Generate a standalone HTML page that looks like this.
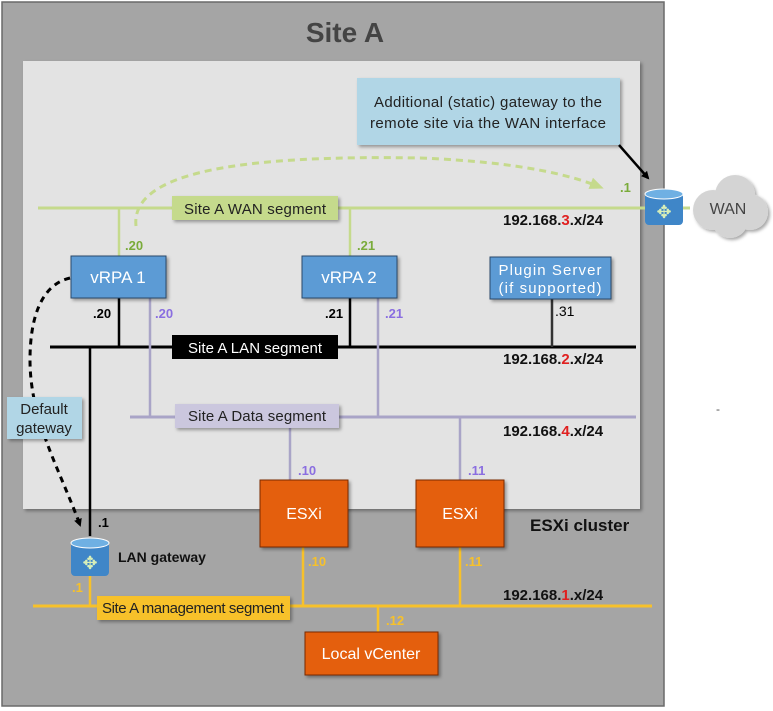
<!DOCTYPE html>
<html><head><meta charset="utf-8"><style>
body{margin:0;background:#fff;}
svg{display:block;font-family:"Liberation Sans",sans-serif;}
</style></head><body>
<svg width="773" height="711" viewBox="0 0 773 711" xmlns="http://www.w3.org/2000/svg">
<defs>
<filter id="sh" x="-10%" y="-10%" width="130%" height="140%"><feDropShadow dx="2" dy="2" stdDeviation="1.5" flood-color="#000" flood-opacity="0.35"/></filter>
<marker id="ab" markerWidth="8" markerHeight="8" refX="6" refY="4" orient="auto" markerUnits="userSpaceOnUse"><path d="M0,0 L8,4 L0,8 z" fill="#000"/></marker>
<marker id="ag" markerWidth="14" markerHeight="12" refX="10" refY="6" orient="auto" markerUnits="userSpaceOnUse"><path d="M0,0 L14,6 L0,12 z" fill="#c5da8c"/></marker>
</defs>
<rect x="2" y="2" width="662" height="704" fill="#a5a5a5" stroke="#6a6a6a" stroke-width="1.5"/>
<text x="345" y="42" text-anchor="middle" font-size="28" font-weight="bold" fill="#444">Site A</text>
<rect x="23" y="61" width="617" height="448" fill="#e3e3e3" filter="url(#sh)"/>
<rect x="357" y="78" width="263" height="67" fill="#b1d6e6" filter="url(#sh)"/>
<text x="488" y="107" text-anchor="middle" font-size="15" fill="#222" textLength="228">Additional (static) gateway to the</text>
<text x="488" y="128" text-anchor="middle" font-size="15" fill="#222" textLength="236">remote site via the WAN interface</text>
<line x1="619" y1="145" x2="648" y2="178" stroke="#000" stroke-width="2.5" marker-end="url(#ab)"/>
<!-- WAN -->
<line x1="38" y1="208" x2="690" y2="208" stroke="#c5da8c" stroke-width="3"/>
<line x1="119" y1="208" x2="119" y2="256" stroke="#c5da8c" stroke-width="2.5"/>
<line x1="350" y1="208" x2="350" y2="256" stroke="#c5da8c" stroke-width="2.5"/>
<path d="M136,226 C130,170 250,155 420,158 C520,162 570,175 600,187" fill="none" stroke="#c5da8c" stroke-width="3" stroke-dasharray="7,5" marker-end="url(#ag)"/>
<rect x="172" y="196" width="166" height="24" fill="#c5da8c" filter="url(#sh)"/>
<text x="255" y="214" text-anchor="middle" font-size="15" fill="#222" textLength="142">Site A WAN segment</text>
<text x="620" y="192" font-size="13" font-weight="bold" fill="#7aab3a">.1</text>
<text x="125" y="250" font-size="13" font-weight="bold" fill="#7aab3a">.20</text>
<text x="357" y="250" font-size="13" font-weight="bold" fill="#7aab3a">.21</text>
<text x="503" y="225" font-size="15" font-weight="bold" fill="#111">192.168.<tspan fill="#e02020">3</tspan>.x/24</text>
<!-- router WAN -->
<g transform="translate(645,188)"><rect x="0" y="5" width="38" height="32" rx="4" fill="#3f86c8"/><ellipse cx="19" cy="6" rx="19" ry="5" fill="#6fb0e3" stroke="#fff" stroke-width="1"/><text x="19" y="30" text-anchor="middle" font-size="18" fill="#d8efb8">✥</text></g>
<!-- cloud -->
<g fill="#d4d4d4" filter="url(#sh)"><circle cx="713" cy="210" r="20"/><circle cx="735" cy="195" r="20"/><circle cx="750" cy="212" r="18"/><circle cx="730" cy="220" r="18"/></g>
<text x="728" y="214" text-anchor="middle" font-size="16" fill="#444">WAN</text>
<!-- LAN -->
<line x1="50" y1="347" x2="636" y2="347" stroke="#000" stroke-width="3"/>
<line x1="119" y1="298" x2="119" y2="347" stroke="#000" stroke-width="2.5"/>
<line x1="350" y1="298" x2="350" y2="347" stroke="#000" stroke-width="2.5"/>
<line x1="552" y1="299" x2="552" y2="347" stroke="#333" stroke-width="2.5"/>
<line x1="90" y1="347" x2="90" y2="536" stroke="#000" stroke-width="2.5"/>
<rect x="172" y="335" width="166" height="24" fill="#000"/>
<text x="255" y="353" text-anchor="middle" font-size="15" fill="#fff" textLength="134">Site A LAN segment</text>
<text x="503" y="364" font-size="15" font-weight="bold" fill="#111">192.168.<tspan fill="#e02020">2</tspan>.x/24</text>
<!-- Data -->
<line x1="130" y1="417" x2="636" y2="417" stroke="#a9a4c7" stroke-width="3"/>
<line x1="150" y1="298" x2="150" y2="417" stroke="#a9a4c7" stroke-width="2.5"/>
<line x1="378" y1="298" x2="378" y2="417" stroke="#a9a4c7" stroke-width="2.5"/>
<line x1="290" y1="417" x2="290" y2="480" stroke="#a9a4c7" stroke-width="2.5"/>
<line x1="460" y1="417" x2="460" y2="480" stroke="#a9a4c7" stroke-width="2.5"/>
<rect x="175" y="404" width="164" height="24" fill="#cbc7de" filter="url(#sh)"/>
<text x="257" y="421" text-anchor="middle" font-size="15" fill="#222" textLength="138">Site A Data segment</text>
<text x="503" y="436" font-size="15" font-weight="bold" fill="#111">192.168.<tspan fill="#e02020">4</tspan>.x/24</text>
<text x="298" y="475" font-size="13" font-weight="bold" fill="#8a6ee0">.10</text>
<text x="468" y="475" font-size="13" font-weight="bold" fill="#8a6ee0">.11</text>
<!-- vRPA -->
<rect x="71" y="256" width="95" height="42" fill="#5b9bd5" stroke="#2a4a6a" stroke-width="1" filter="url(#sh)"/>
<text x="118" y="283" text-anchor="middle" font-size="17" fill="#fff">vRPA 1</text>
<rect x="302" y="256" width="95" height="42" fill="#5b9bd5" stroke="#2a4a6a" stroke-width="1" filter="url(#sh)"/>
<text x="349" y="283" text-anchor="middle" font-size="17" fill="#fff">vRPA 2</text>
<rect x="490" y="257" width="121" height="42" fill="#5b9bd5" stroke="#2a4a6a" stroke-width="1" filter="url(#sh)"/>
<text x="550" y="275" text-anchor="middle" font-size="15" fill="#fff" textLength="103">Plugin Server</text>
<text x="550" y="293" text-anchor="middle" font-size="15" fill="#fff" textLength="103">(if supported)</text>
<text x="93" y="318" font-size="13" font-weight="bold" fill="#000">.20</text>
<text x="155" y="318" font-size="13" font-weight="bold" fill="#8a6ee0">.20</text>
<text x="325" y="318" font-size="13" font-weight="bold" fill="#000">.21</text>
<text x="385" y="318" font-size="13" font-weight="bold" fill="#8a6ee0">.21</text>
<text x="555" y="316" font-size="14" fill="#000">.31</text>
<!-- default gateway -->
<path d="M70,278 C40,285 30,320 30,360 C30,420 60,470 80,525" fill="none" stroke="#000" stroke-width="3" stroke-dasharray="6,5" marker-end="url(#ab)"/>
<rect x="7" y="397" width="75" height="42" fill="#b1d6e6" filter="url(#sh)"/>
<text x="44" y="414" text-anchor="middle" font-size="15" fill="#222">Default</text>
<text x="44" y="433" text-anchor="middle" font-size="15" fill="#222">gateway</text>
<text x="98" y="527" font-size="13" font-weight="bold" fill="#000">.1</text>
<!-- mgmt -->
<line x1="33" y1="606" x2="652" y2="606" stroke="#f7c12a" stroke-width="3"/>
<line x1="90" y1="575" x2="90" y2="606" stroke="#f7c12a" stroke-width="2.5"/>
<line x1="303" y1="547" x2="303" y2="606" stroke="#f7c12a" stroke-width="2.5"/>
<line x1="460" y1="547" x2="460" y2="606" stroke="#f7c12a" stroke-width="2.5"/>
<line x1="378" y1="606" x2="378" y2="632" stroke="#f7c12a" stroke-width="2.5"/>
<rect x="97" y="596" width="193" height="24" fill="#f7c12a" filter="url(#sh)"/>
<text x="193" y="613" text-anchor="middle" font-size="15" fill="#222" textLength="182">Site A management segment</text>
<text x="72" y="592" font-size="13" font-weight="bold" fill="#f7c12a">.1</text>
<text x="308" y="566" font-size="13" font-weight="bold" fill="#f7c12a">.10</text>
<text x="465" y="566" font-size="13" font-weight="bold" fill="#f7c12a">.11</text>
<text x="386" y="625" font-size="13" font-weight="bold" fill="#f7c12a">.12</text>
<text x="503" y="600" font-size="15" font-weight="bold" fill="#111">192.168.<tspan fill="#e02020">1</tspan>.x/24</text>
<!-- LAN gw router -->
<g transform="translate(71,536)"><rect x="0" y="6" width="38" height="34" rx="4" fill="#3f86c8"/><ellipse cx="19" cy="7" rx="19" ry="5" fill="#6fb0e3" stroke="#fff" stroke-width="1"/><text x="19" y="33" text-anchor="middle" font-size="18" fill="#d8efb8">✥</text></g>
<text x="118" y="562" font-size="14" font-weight="bold" fill="#111">LAN gateway</text>
<!-- ESXi -->
<rect x="260" y="480" width="88" height="67" fill="#e45e0a" stroke="#7a2a00" stroke-width="1" filter="url(#sh)"/>
<text x="304" y="519" text-anchor="middle" font-size="16" fill="#fff">ESXi</text>
<rect x="416" y="480" width="88" height="67" fill="#e45e0a" stroke="#7a2a00" stroke-width="1" filter="url(#sh)"/>
<text x="460" y="519" text-anchor="middle" font-size="16" fill="#fff">ESXi</text>
<text x="530" y="531" font-size="17" font-weight="bold" fill="#111">ESXi cluster</text>
<rect x="305" y="632" width="133" height="43" fill="#e45e0a" stroke="#7a2a00" stroke-width="1" filter="url(#sh)"/>
<text x="371" y="659" text-anchor="middle" font-size="16" fill="#fff">Local vCenter</text>
<text x="716" y="413" font-size="12" fill="#555">-</text>
</svg>
</body></html>
